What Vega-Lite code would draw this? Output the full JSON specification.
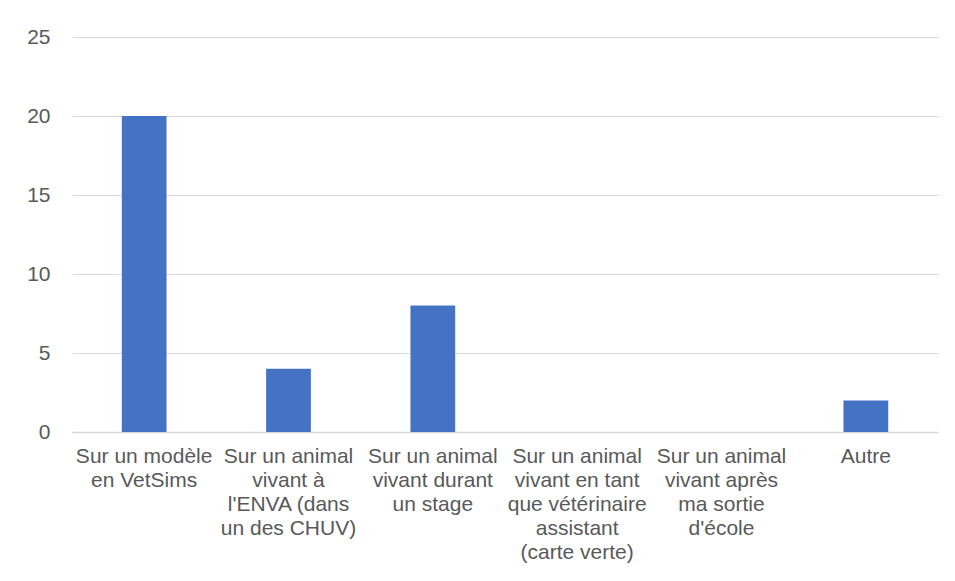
{
  "$schema": "https://vega.github.io/schema/vega-lite/v6.json",
  "autosize": {"type": "none"},
  "padding": {"left": 72, "top": 37, "right": 17, "bottom": 149},
  "width": 866,
  "height": 395,
  "background": "white",
  "config": {"view": {"stroke": null}},
  "data": {"values": [
    {"cat": "Sur un modèle\nen VetSims", "n": 20},
    {"cat": "Sur un animal\nvivant à\nl'ENVA (dans\nun des CHUV)", "n": 4},
    {"cat": "Sur un animal\nvivant durant\nun stage", "n": 8},
    {"cat": "Sur un animal\nvivant en tant\nque vétérinaire\nassistant\n(carte verte)", "n": 0},
    {"cat": "Sur un animal\nvivant après\nma sortie\nd'école", "n": 0},
    {"cat": "Autre", "n": 2}
  ]},
  "mark": {"type": "bar", "color": "#4472C4"},
  "encoding": {
    "x": {
      "field": "cat", "type": "nominal", "sort": null, "title": null,
      "scale": {"paddingInner": 0.69, "paddingOuter": 0.345},
      "axis": {
        "labelAngle": 0, "labelExpr": "split(datum.value, '\\n')",
        "labelFont": "Liberation Sans", "labelFontSize": 21, "labelColor": "#595959",
        "labelLineHeight": 24, "labelLimit": 0, "labelPadding": 13, "labelBaseline": "top",
        "ticks": false, "domainColor": "#d9d9d9", "domainWidth": 1.5, "grid": false
      }
    },
    "y": {
      "field": "n", "type": "quantitative", "title": null,
      "scale": {"domain": [0, 25], "nice": false},
      "axis": {
        "values": [0, 5, 10, 15, 20, 25],
        "labelFont": "Liberation Sans", "labelFontSize": 21, "labelColor": "#595959",
        "labelPadding": 22, "ticks": false, "domain": false,
        "grid": true, "gridColor": "#d9d9d9", "gridWidth": 1.2
      }
    }
  }
}
